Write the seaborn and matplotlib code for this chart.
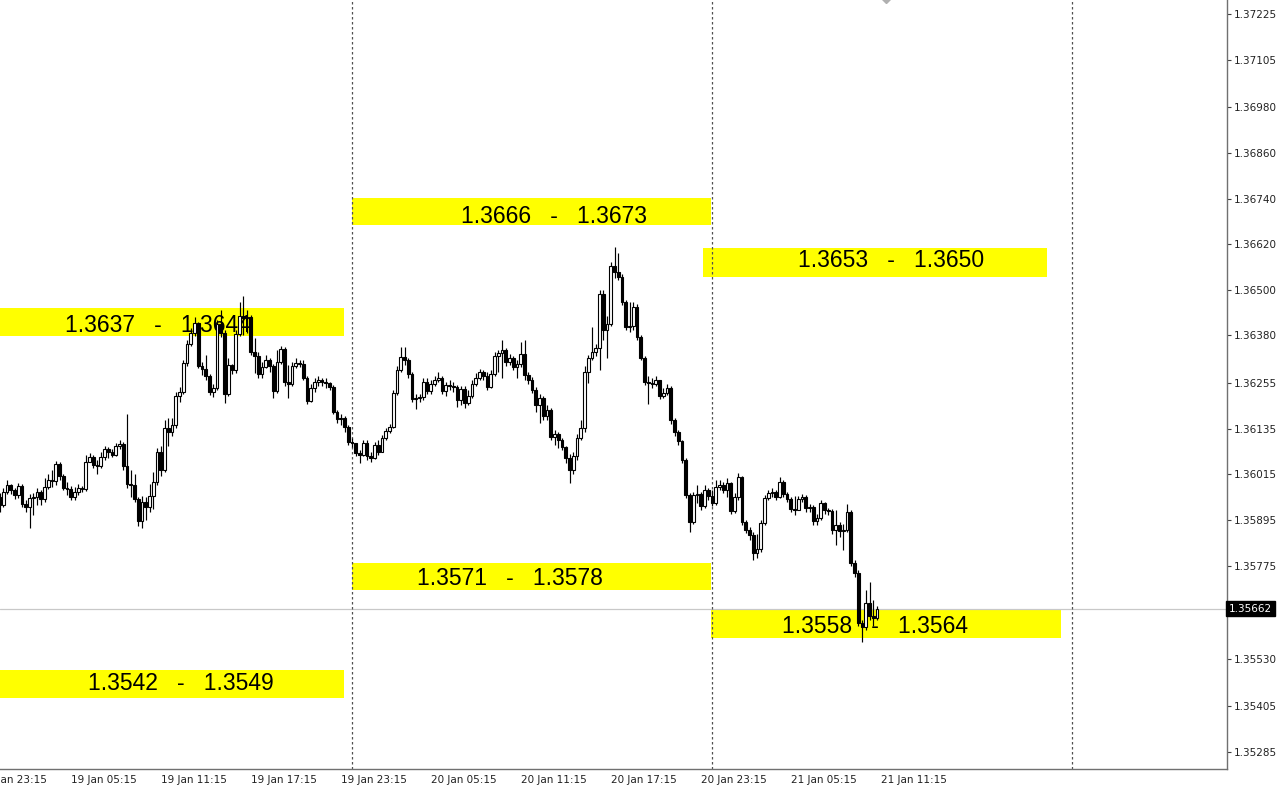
import numpy as np
import pandas as pd
import matplotlib
matplotlib.use("Agg")
import matplotlib.pyplot as plt
from matplotlib.patches import Rectangle
import seaborn as sns

# ---------------- data (M15 candles, 19 Jan 00:30 -> 21 Jan 11:00) ----------------
first_bar = 2            # bar index of the first candle (bar 0 = 19 Jan 00:00)
first_open = 1.35955

closes = [
    1.35934, 1.35968, 1.35986, 1.35973, 1.35960, 1.35984, 1.35937, 1.35929, 1.35952, 1.35955,
    1.35968, 1.35950, 1.35981, 1.36000, 1.35997, 1.36042, 1.36010, 1.35979, 1.35976, 1.35955,
    1.35968, 1.35979, 1.35976, 1.36047, 1.36060, 1.36039, 1.36036, 1.36060, 1.36081, 1.36073,
    1.36065, 1.36089, 1.36094, 1.36036, 1.35989, 1.35987, 1.35950, 1.35892, 1.35942, 1.35929,
    1.35958, 1.35994, 1.36073, 1.36026, 1.36136, 1.36126, 1.36144, 1.36221, 1.36231, 1.36307,
    1.36357, 1.36386, 1.36413, 1.36299, 1.36292, 1.36273, 1.36231, 1.36242, 1.36410, 1.36386,
    1.36226, 1.36302, 1.36289, 1.36384, 1.36431, 1.36426, 1.36428, 1.36336, 1.36326, 1.36278,
    1.36297, 1.36315, 1.36299, 1.36234, 1.36310, 1.36344, 1.36257, 1.36252, 1.36299, 1.36307,
    1.36305, 1.36268, 1.36207, 1.36242, 1.36257, 1.36263, 1.36257, 1.36255, 1.36244, 1.36178,
    1.36160, 1.36163, 1.36139, 1.36100, 1.36097, 1.36071, 1.36065, 1.36097, 1.36063, 1.36057,
    1.36092, 1.36073, 1.36110, 1.36128, 1.36139, 1.36228, 1.36289, 1.36323, 1.36315, 1.36278,
    1.36213, 1.36215, 1.36218, 1.36257, 1.36234, 1.36252, 1.36263, 1.36268, 1.36234, 1.36250,
    1.36247, 1.36244, 1.36210, 1.36239, 1.36202, 1.36221, 1.36252, 1.36268, 1.36284, 1.36273,
    1.36244, 1.36278, 1.36326, 1.36334, 1.36342, 1.36310, 1.36320, 1.36297, 1.36305, 1.36331,
    1.36276, 1.36263, 1.36236, 1.36197, 1.36215, 1.36168, 1.36184, 1.36113, 1.36121, 1.36105,
    1.36086, 1.36057, 1.36026, 1.36063, 1.36110, 1.36136, 1.36284, 1.36320, 1.36336, 1.36347,
    1.36489, 1.36394, 1.36410, 1.36562, 1.36547, 1.36534, 1.36468, 1.36402, 1.36405, 1.36455,
    1.36376, 1.36320, 1.36257, 1.36255, 1.36252, 1.36263, 1.36221, 1.36228, 1.36242, 1.36157,
    1.36126, 1.36102, 1.36052, 1.35960, 1.35889, 1.35960, 1.35963, 1.35931, 1.35973, 1.35958,
    1.35939, 1.35981, 1.35986, 1.35973, 1.35992, 1.35918, 1.35955, 1.36007, 1.35889, 1.35868,
    1.35855, 1.35808, 1.35818, 1.35887, 1.35952, 1.35965, 1.35968, 1.35955, 1.35994, 1.35963,
    1.35950, 1.35923, 1.35921, 1.35950, 1.35955, 1.35926, 1.35929, 1.35892, 1.35900, 1.35939,
    1.35921, 1.35918, 1.35868, 1.35881, 1.35866, 1.35868, 1.35916, 1.35781, 1.35755, 1.35623,
    1.35613, 1.35676, 1.35642, 1.35637, 1.35662,
]

highs = [
    1.35965, 1.35979, 1.36000, 1.35989, 1.35979, 1.35992, 1.35989, 1.35947, 1.35963, 1.35965,
    1.35979, 1.35973, 1.36005, 1.36015, 1.36026, 1.36050, 1.36047, 1.36015, 1.35994, 1.35984,
    1.35981, 1.35989, 1.35984, 1.36065, 1.36071, 1.36065, 1.36052, 1.36073, 1.36089, 1.36086,
    1.36081, 1.36097, 1.36105, 1.36100, 1.36173, 1.36026, 1.36015, 1.35955, 1.35958, 1.35955,
    1.35989, 1.36021, 1.36084, 1.36089, 1.36157, 1.36163, 1.36163, 1.36231, 1.36244, 1.36315,
    1.36368, 1.36399, 1.36428, 1.36415, 1.36310, 1.36328, 1.36278, 1.36252, 1.36420, 1.36447,
    1.36394, 1.36320, 1.36305, 1.36394, 1.36468, 1.36483, 1.36447, 1.36434, 1.36373, 1.36336,
    1.36310, 1.36328, 1.36320, 1.36305, 1.36342, 1.36352, 1.36349, 1.36302, 1.36310, 1.36320,
    1.36315, 1.36315, 1.36273, 1.36252, 1.36268, 1.36273, 1.36268, 1.36268, 1.36257, 1.36250,
    1.36184, 1.36173, 1.36168, 1.36144, 1.36110, 1.36086, 1.36079, 1.36105, 1.36105, 1.36073,
    1.36100, 1.36105, 1.36118, 1.36136, 1.36147, 1.36236, 1.36299, 1.36349, 1.36349, 1.36320,
    1.36284, 1.36226, 1.36226, 1.36268, 1.36268, 1.36263, 1.36273, 1.36284, 1.36273, 1.36257,
    1.36263, 1.36257, 1.36250, 1.36247, 1.36247, 1.36236, 1.36263, 1.36281, 1.36292, 1.36289,
    1.36284, 1.36289, 1.36336, 1.36342, 1.36368, 1.36347, 1.36331, 1.36326, 1.36315, 1.36363,
    1.36368, 1.36284, 1.36270, 1.36244, 1.36226, 1.36221, 1.36197, 1.36189, 1.36131, 1.36126,
    1.36110, 1.36089, 1.36068, 1.36073, 1.36121, 1.36157, 1.36299, 1.36328, 1.36402, 1.36357,
    1.36499, 1.36499, 1.36431, 1.36573, 1.36612, 1.36597, 1.36541, 1.36473, 1.36468, 1.36468,
    1.36462, 1.36381, 1.36326, 1.36273, 1.36268, 1.36273, 1.36263, 1.36242, 1.36252, 1.36247,
    1.36163, 1.36131, 1.36105, 1.36057, 1.35965, 1.35968, 1.35986, 1.35968, 1.35986, 1.35979,
    1.35973, 1.36000, 1.36000, 1.35994, 1.36005, 1.35994, 1.35965, 1.36018, 1.36010, 1.35895,
    1.35876, 1.35863, 1.35858, 1.35895, 1.35960, 1.35973, 1.35979, 1.35973, 1.36007, 1.36000,
    1.35968, 1.35955, 1.35958, 1.35958, 1.35963, 1.35960, 1.35937, 1.35934, 1.35910, 1.35947,
    1.35942, 1.35926, 1.35923, 1.35921, 1.35889, 1.35884, 1.35937, 1.35921, 1.35789, 1.35763,
    1.35631, 1.35710, 1.35731, 1.35684, 1.35668,
]

lows = [
    1.35916, 1.35929, 1.35963, 1.35963, 1.35950, 1.35952, 1.35929, 1.35916, 1.35874, 1.35908,
    1.35934, 1.35934, 1.35942, 1.35976, 1.35981, 1.35986, 1.36000, 1.35973, 1.35960, 1.35947,
    1.35947, 1.35960, 1.35968, 1.35971, 1.36047, 1.36031, 1.36015, 1.36031, 1.36052, 1.36057,
    1.36060, 1.36063, 1.36081, 1.36026, 1.35979, 1.35955, 1.35942, 1.35879, 1.35874, 1.35895,
    1.35916, 1.35923, 1.35986, 1.36010, 1.36021, 1.36089, 1.36115, 1.36136, 1.36205, 1.36226,
    1.36299, 1.36352, 1.36378, 1.36294, 1.36276, 1.36263, 1.36223, 1.36218, 1.36236, 1.36376,
    1.36202, 1.36221, 1.36278, 1.36281, 1.36378, 1.36381, 1.36386, 1.36328, 1.36281, 1.36268,
    1.36268, 1.36294, 1.36284, 1.36215, 1.36228, 1.36305, 1.36247, 1.36215, 1.36247, 1.36294,
    1.36297, 1.36263, 1.36199, 1.36205, 1.36231, 1.36247, 1.36247, 1.36242, 1.36236, 1.36173,
    1.36150, 1.36144, 1.36126, 1.36092, 1.36086, 1.36063, 1.36044, 1.36063, 1.36052, 1.36047,
    1.36055, 1.36065, 1.36073, 1.36105, 1.36123, 1.36136, 1.36223, 1.36284, 1.36302, 1.36268,
    1.36205, 1.36186, 1.36205, 1.36210, 1.36226, 1.36226, 1.36247, 1.36257, 1.36226, 1.36221,
    1.36236, 1.36231, 1.36192, 1.36197, 1.36189, 1.36197, 1.36215, 1.36247, 1.36263, 1.36263,
    1.36236, 1.36242, 1.36273, 1.36284, 1.36268, 1.36299, 1.36302, 1.36289, 1.36268, 1.36297,
    1.36263, 1.36252, 1.36228, 1.36178, 1.36150, 1.36157, 1.36157, 1.36105, 1.36092, 1.36084,
    1.36079, 1.36044, 1.35992, 1.36015, 1.36052, 1.36105, 1.36126, 1.36255, 1.36315, 1.36326,
    1.36289, 1.36368, 1.36320, 1.36405, 1.36531, 1.36526, 1.36460, 1.36394, 1.36389, 1.36394,
    1.36368, 1.36315, 1.36250, 1.36199, 1.36242, 1.36247, 1.36213, 1.36215, 1.36223, 1.36147,
    1.36115, 1.36092, 1.36044, 1.35952, 1.35863, 1.35884, 1.35939, 1.35921, 1.35926, 1.35947,
    1.35931, 1.35934, 1.35973, 1.35965, 1.35955, 1.35910, 1.35913, 1.35947, 1.35881, 1.35860,
    1.35842, 1.35789, 1.35795, 1.35810, 1.35881, 1.35947, 1.35955, 1.35947, 1.35952, 1.35955,
    1.35942, 1.35916, 1.35908, 1.35921, 1.35942, 1.35916, 1.35916, 1.35881, 1.35881, 1.35895,
    1.35910, 1.35908, 1.35858, 1.35829, 1.35850, 1.35816, 1.35863, 1.35774, 1.35745, 1.35616,
    1.35573, 1.35605, 1.35631, 1.35616, 1.35631,
]

time_labels = ["18 Jan 23:15", "19 Jan 05:15", "19 Jan 11:15", "19 Jan 17:15",
               "19 Jan 23:15", "20 Jan 05:15", "20 Jan 11:15", "20 Jan 17:15",
               "20 Jan 23:15", "21 Jan 05:15", "21 Jan 11:15"]
first_label_bar = -3      # 18 Jan 23:15
bars_per_label = 24       # 6 hours of M15 bars
bars_per_day = 96

price_ticks = [1.37225, 1.37105, 1.36980, 1.36860, 1.36740, 1.36620, 1.36500, 1.36380,
               1.36255, 1.36135, 1.36015, 1.35895, 1.35775, 1.35530, 1.35405, 1.35285]
current_price = 1.35662

zone_labels = ["1.3637   -   1.3644", "1.3666   -   1.3673", "1.3653   -   1.3650",
               "1.3571   -   1.3578", "1.3558   -   1.3564", "1.3542   -   1.3549"]
zone_low = [1.36378, 1.36670, 1.36534, 1.35711, 1.35585, 1.35427]
zone_high = [1.36452, 1.36741, 1.36610, 1.35782, 1.35661, 1.35500]
zone_start = [-2.0, 96.0, 189.6, 96.0, 191.7, -2.0]
zone_end = [93.9, 191.7, 281.3, 191.7, 285.1, 93.9]
zone_text_bar = [44.1, 149.9, 239.7, 138.0, 235.5, 50.3]
zone_text_price = [1.36405, 1.36694, 1.36576, 1.35740, 1.35616, 1.35464]

marker_bar = 238.4
marker_price = 1.37278

# ---------------- build frame ----------------
opens = [first_open] + closes[:-1]
df = pd.DataFrame({"open": opens, "high": highs, "low": lows, "close": closes})
df["bar"] = np.arange(first_bar, first_bar + len(df))
df["high"] = df[["high", "open", "close"]].max(axis=1)
df["low"] = df[["low", "open", "close"]].min(axis=1)
df["bull"] = df["close"] >= df["open"]

# ---------------- figure ----------------
sns.set_theme(style="white")
plt.rcParams["font.family"] = ["DejaVu Sans"]

W, H = 1280, 791
fig = plt.figure(figsize=(W / 100, H / 100), dpi=100)
fig.patch.set_facecolor("white")
ax = fig.add_axes([0, 22 / H, 1227 / W, 769 / H])
ax.set_facecolor("white")

x_left = 8 / 3.75
x_right = x_left + 1227 / 3.75
ax.set_xlim(x_left, x_right)
ax.set_ylim(1.35240, 1.37262)

# zones
for lab, lo, hi, s, e, tx, ty in zip(zone_labels, zone_low, zone_high, zone_start,
                                      zone_end, zone_text_bar, zone_text_price):
    ax.add_patch(Rectangle((s, lo), e - s, hi - lo, facecolor="#ffff00",
                           edgecolor="none", zorder=1))
    ax.text(tx, ty, lab, ha="center", va="center", fontsize=16.5,
            family=["Liberation Sans", "DejaVu Sans"], color="black", zorder=2)

# day separators
for d in range(1, 4):
    ax.axvline(d * bars_per_day, color="#505050", lw=0.9, ls=(0, (2, 2)), zorder=1.5)

# current price line
ax.axhline(current_price, color="#c8c8c8", lw=0.9, zorder=1.2)

# candles
ax.vlines(df["bar"], df["low"], df["high"], color="black", lw=0.85, zorder=3)
body_bottom = df[["open", "close"]].min(axis=1)
body_h = (df["close"] - df["open"]).abs().clip(lower=1e-6)
ax.bar(df["bar"], body_h, bottom=body_bottom, width=0.68,
       color=np.where(df["bull"], "white", "black"), edgecolor="black",
       linewidth=0.8, zorder=4)

# top marker
ax.plot([marker_bar], [marker_price], marker="D", ms=9, color="#b0b0b0",
        mec="#b0b0b0", zorder=5, clip_on=True)

# spines
for s in ["left", "top"]:
    ax.spines[s].set_visible(False)
for s in ["right", "bottom"]:
    ax.spines[s].set_color("#707070")
    ax.spines[s].set_linewidth(1.0)

# y axis on right
ax.yaxis.tick_right()
ax.set_yticks(price_ticks)
ax.set_yticklabels([f"{p:.5f}" for p in price_ticks])
ax.tick_params(axis="y", direction="out", length=3, width=0.8, color="#404040",
               labelsize=7.5, labelcolor="#222222", pad=2)
ax.text(1.0015, current_price, f"{current_price:.5f}", transform=ax.get_yaxis_transform(),
        ha="left", va="center", fontsize=7.5, color="white", zorder=6, clip_on=False,
        bbox=dict(boxstyle="square,pad=0.25", fc="black", ec="black"))

# x axis
tick_bars = [first_label_bar + i * bars_per_label for i in range(len(time_labels))]
vis = [(b, l) for b, l in zip(tick_bars, time_labels) if x_left <= b <= x_right]
ax.set_xticks([b for b, _ in vis])
ax.set_xticklabels([l for _, l in vis])
for t in ax.get_xticklabels():
    t.set_horizontalalignment("left")
ax.tick_params(axis="x", direction="out", length=2.5, width=0.8, color="#404040",
               labelsize=7.5, labelcolor="#222222", pad=1.5)
for b, l in zip(tick_bars, time_labels):
    if b < x_left:
        # label of the tick just left of the visible window, cut by the edge as in the source
        ax.annotate(l, xy=(b, 0), xycoords=ax.get_xaxis_transform(),
                    xytext=(0, -4), textcoords="offset points", ha="left", va="top",
                    fontsize=7.5, color="#222222", annotation_clip=False)

ax.grid(False)
fig.savefig("out.png", dpi=100, facecolor="white")
